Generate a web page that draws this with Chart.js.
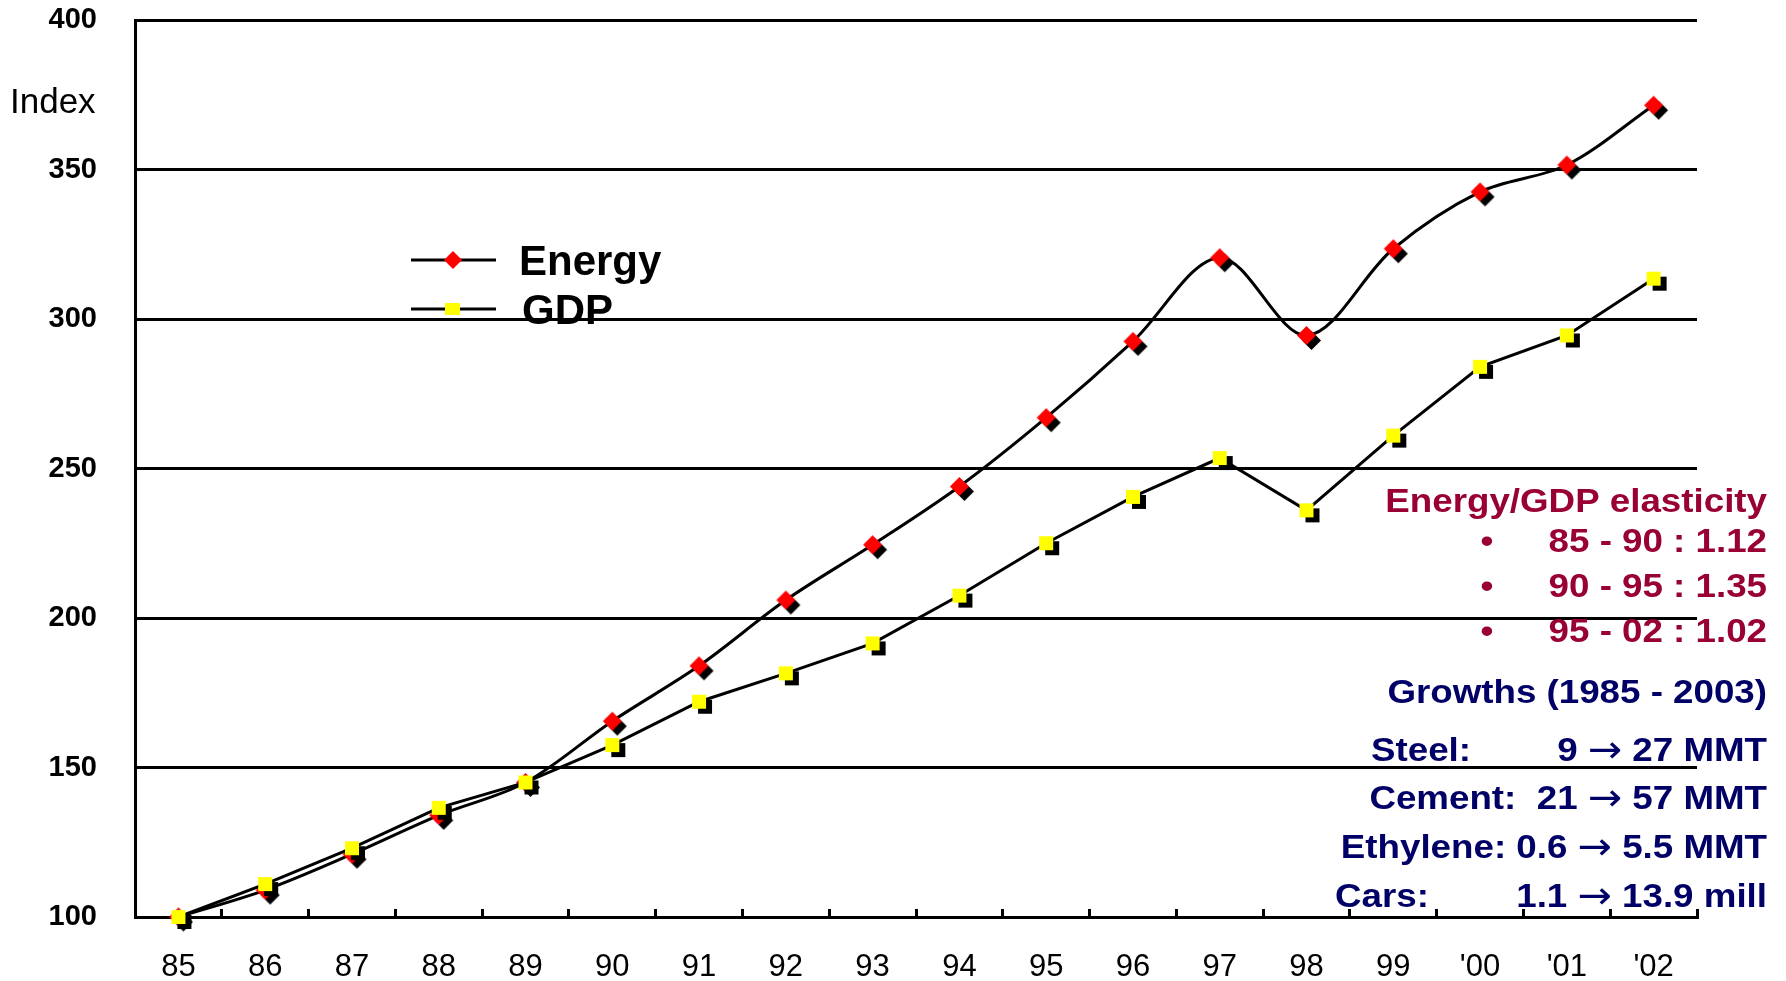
<!DOCTYPE html>
<html>
<head>
<meta charset="utf-8">
<script src="https://cdn.jsdelivr.net/npm/chart.js@4.4.1/dist/chart.umd.min.js"></script>
<style>
  html, body { margin: 0; padding: 0; background: #fff; }
  #wrap { width: 1786px; height: 981px; }
</style>
</head>
<body>
<div id="wrap"><canvas id="grafico"></canvas></div>
<script>
const anos = ['85', '86', '87', '88', '89', '90', '91', '92', '93', '94', '95', '96', '97', '98', '99', "'00", "'01", "'02"];
const energia = [100, 109, 121, 134, 145, 165.5, 184, 206, 224.5, 244, 267, 292.5, 320.5, 294.5, 323.5, 342.5, 351.5, 371.5];
const pib = [100, 111, 123, 136.5, 145, 157.5, 172, 181.5, 191.5, 207.5, 225, 240.5, 253.5, 236, 261, 284, 294.5, 313.5];
const ticksY = [100, 150, 200, 250, 300, 350, 400];

const FONTE = "'Liberation Sans', Arial, sans-serif";
const FONTE_TEXTO = 'bold 34px ' + FONTE;
const FONTE_SETA = "38px 'DejaVu Sans', sans-serif";
const VERMELHO_ESCURO = '#990033';
const AZUL = '#000066';

// marker with a black drop shadow, drawn into a small canvas
function criarMarcador(forma, cor, r, dx, dy) {
    const lado = Math.ceil(2 * (r + Math.max(dx, dy)) + 4);
    const c = document.createElement('canvas');
    c.width = lado;
    c.height = lado;
    const g = c.getContext('2d');
    const desenhar = (cx, cy, fill) => {
        g.fillStyle = fill;
        g.beginPath();
        if (forma === 'losango') {
            g.moveTo(cx, cy - r);
            g.lineTo(cx + r, cy);
            g.lineTo(cx, cy + r);
            g.lineTo(cx - r, cy);
        } else {
            g.rect(cx - r, cy - r, 2 * r, 2 * r);
        }
        g.closePath();
        g.fill();
    };
    desenhar(lado / 2 + dx, lado / 2 + dy, '#000');
    desenhar(lado / 2, lado / 2, cor);
    return c;
}

const marcadorEnergia = criarMarcador('losango', '#ff0000', 9.5, 5, 5);
const marcadorPib = criarMarcador('quadrado', '#ffff00', 7, 6, 5);

const textos = {
    id: 'textos',
    afterDraw(chart) {
        const ctx = chart.ctx;
        ctx.save();

        ctx.fillStyle = '#000';
        ctx.textBaseline = 'alphabetic';
        ctx.textAlign = 'left';
        ctx.font = '35px ' + FONTE;
        ctx.fillText('Index', 10, 113);

        // legend
        ctx.strokeStyle = '#000';
        ctx.lineWidth = 3;
        ctx.beginPath();
        ctx.moveTo(411, 260); ctx.lineTo(496, 260);
        ctx.moveTo(411, 309); ctx.lineTo(496, 309);
        ctx.stroke();
        ctx.fillStyle = '#ff0000';
        ctx.beginPath();
        ctx.moveTo(453, 251); ctx.lineTo(462, 260); ctx.lineTo(453, 269); ctx.lineTo(444, 260);
        ctx.closePath();
        ctx.fill();
        ctx.fillStyle = '#ffff00';
        ctx.fillRect(445, 303, 15, 12);

        ctx.fillStyle = '#000';
        ctx.font = 'bold 42px ' + FONTE;
        ctx.fillText('Energy', 519, 275);
        ctx.fillText('GDP', 522, 324);

        // annotations (slightly wide type); pieces may use their own font
        const escala = 1.08;
        const linha = (partes, x, y, cor, alinhar) => {
            ctx.save();
            ctx.fillStyle = cor;
            ctx.textAlign = 'left';
            let total = 0;
            partes.forEach(p => {
                ctx.font = p.f || FONTE_TEXTO;
                total += ctx.measureText(p.t).width * escala;
            });
            let pos = alinhar === 'right' ? x - total : alinhar === 'center' ? x - total / 2 : x;
            partes.forEach(p => {
                ctx.font = p.f || FONTE_TEXTO;
                ctx.save();
                ctx.translate(pos, y + (p.dy || 0));
                ctx.scale(escala, 1);
                ctx.fillText(p.t, 0, 0);
                ctx.restore();
                pos += ctx.measureText(p.t).width * escala;
            });
            ctx.restore();
        };
        const seta = { t: '\u2192', f: FONTE_SETA, dy: 1 };
        const dir = 1767;
        linha([{ t: 'Energy/GDP elasticity' }], dir, 512, VERMELHO_ESCURO, 'right');
        linha([{ t: '85 - 90 : 1.12' }], dir, 552, VERMELHO_ESCURO, 'right');
        linha([{ t: '90 - 95 : 1.35' }], dir, 597, VERMELHO_ESCURO, 'right');
        linha([{ t: '95 - 02 : 1.02' }], dir, 642, VERMELHO_ESCURO, 'right');
        linha([{ t: '\u2022' }], 1487, 552, VERMELHO_ESCURO, 'center');
        linha([{ t: '\u2022' }], 1487, 597, VERMELHO_ESCURO, 'center');
        linha([{ t: '\u2022' }], 1487, 642, VERMELHO_ESCURO, 'center');

        linha([{ t: 'Growths (1985 - 2003)' }], dir, 703, AZUL, 'right');
        linha([{ t: 'Steel:' }], 1371, 761, AZUL, 'left');
        linha([{ t: '9 ' }, seta, { t: ' 27 MMT' }], dir, 761, AZUL, 'right');
        linha([{ t: 'Cement:  21 ' }, seta, { t: ' 57 MMT' }], dir, 809, AZUL, 'right');
        linha([{ t: 'Ethylene: 0.6 ' }, seta, { t: ' 5.5 MMT' }], dir, 858, AZUL, 'right');
        linha([{ t: 'Cars:' }], 1335, 907, AZUL, 'left');
        linha([{ t: '1.1 ' }, seta, { t: ' 13.9 mill' }], dir, 907, AZUL, 'right');

        ctx.restore();
    }
};

new Chart(document.getElementById('grafico'), {
    type: 'line',
    data: {
        labels: anos,
        datasets: [
            {
                label: 'Energy',
                data: energia,
                borderColor: '#000',
                borderWidth: 3,
                tension: 0.33,
                pointStyle: marcadorEnergia,
                pointRadius: 9,
                clip: false,
                order: 1
            },
            {
                label: 'GDP',
                data: pib,
                borderColor: '#000',
                borderWidth: 3,
                tension: 0,
                pointStyle: marcadorPib,
                pointRadius: 8,
                clip: false,
                order: 0
            }
        ]
    },
    options: {
        responsive: true,
        maintainAspectRatio: false,
        animation: false,
        layout: { padding: { top: 20, right: 89, left: 0, bottom: 0 } },
        plugins: {
            legend: { display: false },
            tooltip: { enabled: false }
        },
        scales: {
            x: {
                offset: true,
                afterFit: s => {
                    s.height = 64;
                    s.paddingLeft = 0;
                    s.paddingRight = 0;
                },
                grid: {
                    offset: true,
                    drawOnChartArea: false,
                    drawTicks: true,
                    tickLength: -8,
                    color: '#000',
                    lineWidth: 3
                },
                border: { display: true, color: '#000', width: 3 },
                ticks: {
                    color: '#000',
                    padding: 40,
                    maxRotation: 0,
                    autoSkip: false,
                    font: { family: FONTE, size: 31 }
                }
            },
            y: {
                min: 100,
                max: 400,
                afterFit: s => {
                    s.width = 135;
                    s.paddingTop = 0;
                    s.paddingBottom = 0;
                },
                afterBuildTicks: s => { s.ticks = ticksY.map(v => ({ value: v })); },
                grid: {
                    color: '#000',
                    lineWidth: 3,
                    drawTicks: false
                },
                border: { display: true, color: '#000', width: 3 },
                ticks: {
                    color: '#000',
                    padding: 38,
                    font: { family: FONTE, size: 29, weight: 'bold' }
                }
            }
        }
    },
    plugins: [textos]
});
</script>
</body>
</html>
